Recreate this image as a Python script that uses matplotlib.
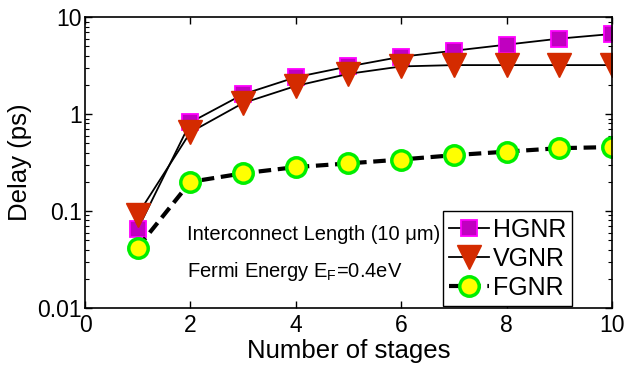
import matplotlib
matplotlib.use("Agg")
import matplotlib.pyplot as plt
import numpy as np

plt.rcParams['font.family'] = ['Liberation Sans', 'DejaVu Sans']
plt.rcParams['mathtext.fontset'] = 'custom'
plt.rcParams['mathtext.rm'] = 'Liberation Sans'
plt.rcParams['mathtext.default'] = 'regular'

stages = [1, 2, 3, 4, 5, 6, 7, 8, 9, 10]
hgnr = [0.065, 0.82, 1.6, 2.4, 3.1, 3.9, 4.5, 5.2, 6.0, 6.7]
vgnr = [0.092, 0.65, 1.3, 1.95, 2.6, 3.1, 3.2, 3.2, 3.2, 3.2]
fgnr = [0.042, 0.20, 0.245, 0.284, 0.31, 0.34, 0.377, 0.41, 0.445, 0.457]

xticks = [0, 2, 4, 6, 8, 10]
yticks = [0.01, 0.1, 1, 10]
yticklabels = ['0.01', '0.1', '1', '10']

fig = plt.figure(figsize=(6.27, 3.72), dpi=100)
ax = fig.add_axes([0.1356, 0.172, 0.8404, 0.782])

ax.plot(stages, hgnr, '-', color='black', lw=1.3, marker='s', markersize=12,
        markerfacecolor='#C000C0', markeredgecolor='#FF00FF', markeredgewidth=1.3,
        label='HGNR')
ax.plot(stages, vgnr, '-', color='black', lw=1.3, marker='v', markersize=17,
        markerfacecolor='#D42B00', markeredgecolor='#D42B00', markeredgewidth=1,
        label='VGNR')
ax.plot(stages, fgnr, '--', color='black', lw=3, dashes=(3, 1.6), marker='o', markersize=14,
        markerfacecolor='#FFFF00', markeredgecolor='#00EE00', markeredgewidth=2.5,
        label='FGNR')

ax.set_yscale('log')
ax.set_xlim(0, 10)
ax.set_ylim(0.01, 10)
ax.set_xticks(xticks)
ax.set_xticklabels([str(t) for t in xticks])
ax.set_yticks(yticks)
ax.set_yticklabels(yticklabels)
ax.tick_params(which='both', direction='in', top=True, right=True, labelsize=16.5)
ax.tick_params(which='major', length=5, width=1)
ax.tick_params(which='minor', length=3, width=0.8)
ax.tick_params(axis='x', pad=4)
ax.tick_params(axis='y', pad=2)
for s in ax.spines.values():
    s.set_linewidth(1.2)

ax.set_xlabel('Number of stages', fontsize=18.5, labelpad=2)
ax.set_ylabel('Delay (ps)', fontsize=18.5, labelpad=4)

ax.text(0.1935, 0.254, 'Interconnect Length (10 \u03bcm)', transform=ax.transAxes,
        fontsize=14.5, va='center', ha='left')
ax.text(0.1935, 0.124, 'Fermi Energy E$_\\mathrm{F}$=0.4eV', transform=ax.transAxes,
        fontsize=14.5, va='center', ha='left')

leg = ax.legend(loc='lower left', bbox_to_anchor=(0.679, 0.007), borderaxespad=0,
                fontsize=18, fancybox=False, edgecolor='black', framealpha=1,
                handlelength=1.6, handletextpad=0.15, labelspacing=0.2,
                borderpad=0.25)
leg.get_frame().set_linewidth(1.0)

fig.savefig('out.png', dpi=100)
